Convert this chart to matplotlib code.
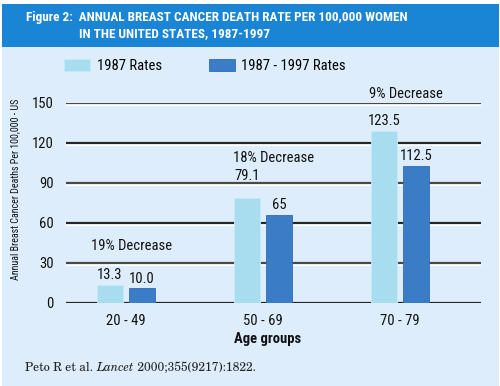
import matplotlib
matplotlib.use("Agg")
import matplotlib.pyplot as plt
import matplotlib.patheffects as pe
from matplotlib.patches import Rectangle
from matplotlib import font_manager as fm
import numpy as np

# ---- data ----
categories = ["20 - 49", "50 - 69", "70 - 79"]
rates_1987 = [13.5, 78.5, 129.0]
rates_1997 = [11.0, 66.0, 103.0]
labels_1987 = ["13.3", "79.1", "123.5"]
labels_1997 = ["10.0", "65", "112.5"]
decrease_labels = ["19% Decrease", "18% Decrease", "9% Decrease"]
decrease_y = [43, 108.7, 156.7]
yticks = [0, 30, 60, 90, 120, 150]
series_names = ["1987 Rates", "1987 - 1997 Rates"]

names = {f.name for f in fm.fontManager.ttflist}
prefs = ["Roboto Condensed", "Archivo Narrow", "PT Sans Narrow", "Liberation Sans Narrow",
         "Arial Narrow", "IBM Plex Sans Condensed", "Fira Sans Condensed", "Encode Sans Condensed",
         "Asap Condensed", "Open Sans Condensed", "Sofia Sans Condensed", "Barlow Semi Condensed",
         "Roboto", "Liberation Sans"]
cond = next((p for p in prefs if p in names), "DejaVu Sans")
plt.rcParams['font.family'] = [cond, 'DejaVu Sans']

serif_prefs = ["TeX Gyre Schola", "C059", "Century Schoolbook L", "New Century Schoolbook",
               "Century Schoolbook", "Liberation Serif"]
serif = next((p for p in serif_prefs if p in names), "DejaVu Serif")
serif_size = 9.8 if serif == "Liberation Serif" else 8.7

W, H = 500, 386
fig = plt.figure(figsize=(W / 100, H / 100), dpi=100)
fig.patch.set_facecolor("white")

def fx(px):
    return px / W
def fy(py):
    return 1 - py / H

panel = "#DDEDFC"
banner = "#1A84D5"
light = "#A8DDEF"
dark = "#3A7CC6"

fig.patches.append(Rectangle((fx(2), 0), fx(497), fy(4), transform=fig.transFigure,
                             facecolor=panel, edgecolor="none", zorder=-2))
fig.patches.append(Rectangle((fx(2), fy(47)), fx(497), 43 / H, transform=fig.transFigure,
                             facecolor=banner, edgecolor="none", zorder=-1))

fig.text(fx(26), fy(18), "Figure 2:  ANNUAL BREAST CANCER DEATH RATE PER 100,000 WOMEN",
         color="white", fontsize=9.5, fontweight="bold", va="center", ha="left")
fig.text(fx(79), fy(34), "IN THE UNITED STATES, 1987-1997",
         color="white", fontsize=9.5, fontweight="bold", va="center", ha="left")

# axes: x from 66 to 481 px, y from 103 (150) to 303 (0)
ax = fig.add_axes([fx(66), fy(303), (481 - 66) / W, 200 / H])
ax.set_zorder(2)
ax.set_facecolor("none")
x = np.arange(len(categories))
bw = 0.19
off = 0.117
ax.set_xlim(-0.438, 2.591)
ax.set_ylim(0, 150)
for s in ax.spines.values():
    s.set_visible(False)

# gridlines
for i, t in enumerate(yticks):
    ax.axhline(t, color="#262626" if i % 2 == 0 else "#484848", lw=1.6, zorder=1,
               path_effects=[pe.SimpleLineShadow(offset=(0, -1.3), shadow_color="white", alpha=1, rho=1),
                             pe.Normal()])

b1 = ax.bar(x - off, rates_1987, bw, color=light, edgecolor="#C9EAF5", linewidth=0.6, zorder=3,
            label=series_names[0])
b2 = ax.bar(x + off, rates_1997, bw, color=dark, edgecolor="#2F6DB5", linewidth=0.6, zorder=3,
            label=series_names[1])

extra1 = [0, 9, 0]
for xi, v, lab, e in zip(x - off, rates_1987, labels_1987, extra1):
    ax.annotate(lab, (xi, v), xytext=(0, 2 + e), textcoords="offset points",
                ha="center", va="bottom", fontsize=10.5, color="#111", zorder=4)
for xi, v, lab in zip(x + off, rates_1997, labels_1997):
    ax.annotate(lab, (xi, v), xytext=(0, 2), textcoords="offset points",
                ha="center", va="bottom", fontsize=10.5, color="#111", zorder=4)

dec_x = [0.04, 1.08, 2.04]
for xi, yv, lab in zip(dec_x, decrease_y, decrease_labels):
    ax.text(xi, yv, lab, ha="center", va="center", fontsize=10.5, color="#111", clip_on=False)

ax.set_yticks(yticks)
ax.set_yticklabels([str(t) for t in yticks], fontsize=10.5, color="#111")
ax.set_xticks(x)
ax.set_xticklabels(categories, fontsize=10.5, color="#111")
ax.tick_params(axis="y", length=0, pad=9)
ax.tick_params(axis="x", length=0, pad=8)

fig.text(fx(268), fy(338.5), "Age groups", ha="center", va="center", fontsize=10.5,
         fontweight="bold", color="#111")
fig.text(fx(15), fy(189), "Annual Breast Cancer Deaths Per 100,000 - US", rotation=90,
         ha="center", va="center", fontsize=7.2, color="#111")

# legend
leg = fig.legend(handles=[b1, b2], labels=series_names, loc="center left",
                 bbox_to_anchor=(fx(64), fy(66)), ncol=2, frameon=False, fontsize=10.5,
                 handlelength=1.8, handleheight=0.8, columnspacing=3.2, handletextpad=0.45,
                 borderaxespad=0, borderpad=0)

# footer with italic journal name
fig.canvas.draw()
r = fig.canvas.get_renderer()
parts = [("Peto R et al. ", "normal"), ("Lancet", "italic"), (" 2000;355(9217):1822.", "normal")]
xpos = 25
for txt, style in parts:
    t = fig.text(fx(xpos), fy(368), txt, ha="left", va="center", fontsize=serif_size,
                 family=[serif, "DejaVu Serif"], style=style, color="#222")
    bb = t.get_window_extent(renderer=r)
    xpos += bb.width

fig.savefig("out.png", dpi=100, facecolor=fig.get_facecolor())
